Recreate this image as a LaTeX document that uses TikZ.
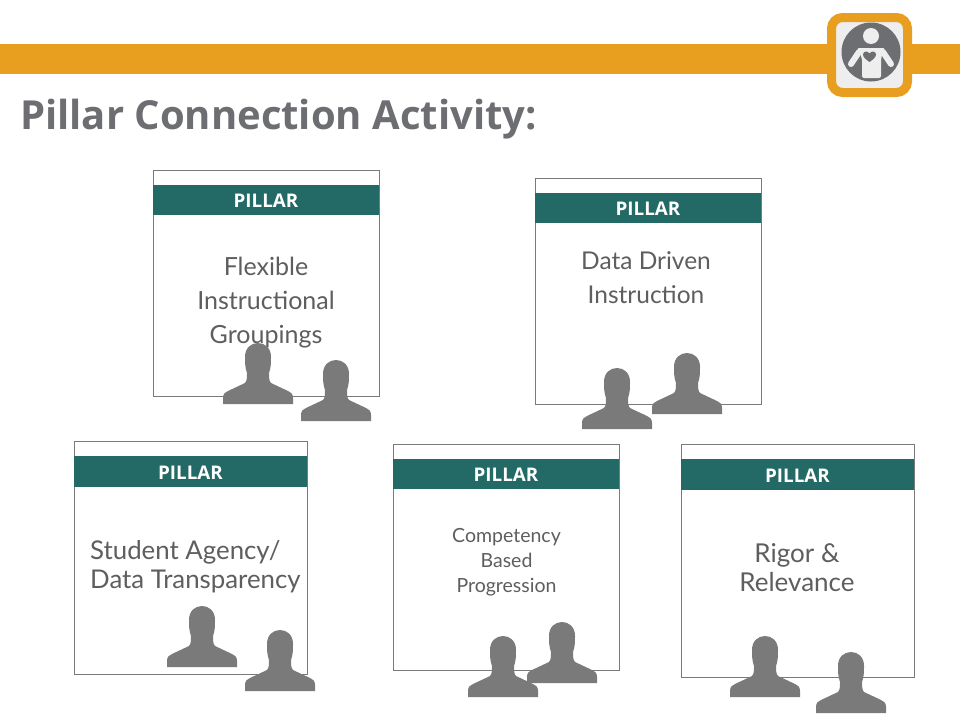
\documentclass[tikz,border=0pt]{standalone}
\usepackage{fontspec}
\setmainfont{Open Sans}
\newfontfamily\cardfont{Lato}
\definecolor{barorange}{HTML}{E89E1F}
\definecolor{slategray}{HTML}{6D6E71}
\definecolor{pillargreen}{HTML}{236A66}
\definecolor{persongray}{HTML}{7A7A7A}
\definecolor{logopale}{HTML}{EEEEEE}
\definecolor{cardtext}{HTML}{5E5E5E}
\begin{document}
\begin{tikzpicture}
    [
  x=1pt, y=-1pt,
  card/.style={
    draw=persongray,
    fill=white,
    line width=0.9pt,
    inner sep=0pt
  },
  band/.style={
    fill=pillargreen,
    text=white,
    font=\fontsize{18.8}{19}\selectfont\bfseries,
    inner sep=0pt
  },
  cardlabel/.style={
    text=cardtext,
    align=center,
    inner sep=0pt
  },
  person/.pic={
    \fill [persongray] (-35,0) -- (-35,-6)
      .. controls (-35,-10) and (-33,-12) .. (-30,-13)
      -- (-13,-21)
      .. controls (-11,-23) and (-11,-27) .. (-11,-31)
      .. controls (-13,-36) and (-13,-42) .. (-13,-47)
      .. controls (-13,-56) and (-7,-61) .. (0,-61)
      .. controls (7,-61) and (13,-56) .. (13,-47)
      .. controls (13,-42) and (13,-36) .. (11,-31)
      .. controls (11,-27) and (11,-23) .. (13,-21)
      -- (30,-13)
      .. controls (33,-12) and (35,-10) .. (35,-6)
      -- (35,0) -- cycle;
  }
  ]
  \useasboundingbox (0,0) rectangle (960,720);
  \fill [barorange] (0,44) rectangle (960,74);
  \node (title) at (20,119) [anchor=west, inner sep=0pt, text=slategray,
    font=\fontsize{40}{40}\selectfont\bfseries] {Pillar Connection Activity:};

  % logo
  \node (logo) at (869.5,55) [fill=logopale, draw=barorange, line width=9pt,
    rounded corners=11pt, minimum width=76pt, minimum height=75pt] {};
  \node (disc) at (871,52) [circle, fill=slategray, minimum size=59pt, inner sep=0pt] {};
  \node (head) at (871,36) [circle, fill=logopale, minimum size=16pt, inner sep=0pt] {};
  \draw [logopale, line width=6pt, line cap=round] (859,52) -- (851,64);
  \draw [logopale, line width=6pt, line cap=round] (883,52) -- (891,64);
  \fill [logopale, rounded corners=2pt] (857,48) -- (885,48) -- (881,58) -- (881,78) -- (862,78) -- (862,58) -- cycle;
  \fill [slategray] (869.5,62) .. controls (865,59) and (863,56.5) .. (863,54.5)
    .. controls (863,51) and (868,50.5) .. (869.5,53.5)
    .. controls (871,50.5) and (876,51) .. (876,54.5)
    .. controls (876,56.5) and (874,59) .. (869.5,62) -- cycle;

  % flexible
  \node (flexcard) at (266,283) [card, minimum width=226pt, minimum height=226pt] {};
  \node (flexband) at (266,200) [band, minimum width=226pt, minimum height=30pt, text depth=0pt, text height=15pt] {PILLAR};
  \node (flextext) at (266,303) [cardlabel, font=\cardfont\fontsize{25}{34}\selectfont]
    {Flexible\\Instructional\\Groupings};
  \pic at (258,404) {person};
  \pic at (336,421) {person};

  % data
  \node (datacard) at (648,291) [card, minimum width=226pt, minimum height=226pt] {};
  \node (databand) at (648,208) [band, minimum width=226pt, minimum height=30pt, text depth=0pt, text height=15pt] {PILLAR};
  \node (datatext) at (646,278) [cardlabel, font=\cardfont\fontsize{24.5}{34}\selectfont]
    {Data Driven\\Instruction};
  \pic at (617,429) {person};
  \pic at (687,414) {person};

  % agency
  \node (agencycard) at (190.5,557.5) [card, minimum width=233pt, minimum height=233pt] {};
  \node (agencyband) at (190.5,471.5) [band, minimum width=233pt, minimum height=31pt, text depth=0pt, text height=15pt] {PILLAR};
  \node (agencytext) at (90,567) [cardlabel, anchor=west, align=left,
    font=\cardfont\fontsize{25.8}{29}\selectfont] {Student Agency/\\Data Transparency};
  \pic at (202,667) {person};
  \pic at (280,691) {person};

  % competency
  \node (compcard) at (506,557) [card, minimum width=226pt, minimum height=226pt] {};
  \node (compband) at (506,474) [band, minimum width=226pt, minimum height=30pt, text depth=0pt, text height=15pt] {PILLAR};
  \node (comptext) at (506.5,562) [cardlabel, font=\cardfont\fontsize{19.5}{25}\selectfont]
    {Competency\\Based\\Progression};
  \pic at (503,697) {person};
  \pic at (562,683) {person};

  % rigor
  \node (rigorcard) at (797.5,560.5) [card, minimum width=233pt, minimum height=233pt] {};
  \node (rigorband) at (797.5,474.5) [band, minimum width=233pt, minimum height=31pt, text depth=0pt, text height=15pt] {PILLAR};
  \node (rigortext) at (797,568) [cardlabel, font=\cardfont\fontsize{26}{29}\selectfont]
    {Rigor \&\\Relevance};
  \pic at (765,697) {person};
  \pic at (851,713) {person};
\end{tikzpicture}
\end{document}
